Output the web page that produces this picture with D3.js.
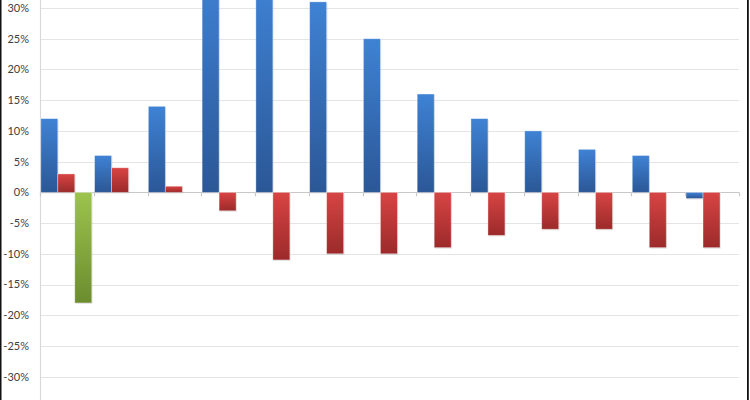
<!DOCTYPE html>
<html>
<head>
<meta charset="utf-8">
<script src="https://cdn.jsdelivr.net/npm/d3@7"></script>
<style>
  body { margin: 0; background: #fff; }
  svg { display: block; }
  .tick-label { font-family: Lato, "Open Sans", sans-serif; font-size: 11px; fill: #404040; }
</style>
</head>
<body>
<svg id="chart" width="750" height="400"></svg>
<script>
// data (percent)
var categories = ["1", "2", "3", "4", "5", "6", "7", "8", "9", "10", "11", "12", "13"];
var seriesNames = ["blue", "red", "green"];
var blueValues = [12, 6, 14, 36, 34, 31, 25, 16, 12, 10, 7, 6, -1];
var redValues = [3, 4, 1, -3, -11, -10, -10, -9, -7, -6, -6, -9, -9];
var greenValues = [-18, null, null, null, null, null, null, null, null, null, null, null, null];
var yTicks = [-30, -25, -20, -15, -10, -5, 0, 5, 10, 15, 20, 25, 30];

var width = 750, height = 400;
var left = 40, right = 739;

var svg = d3.select("#chart");

var colors = {
  blue: ["#3f82d4", "#2b5796"],
  red: ["#d84444", "#9c2a2a"],
  green: ["#9dc44c", "#6c8c2e"]
};

var defs = svg.append("defs");
seriesNames.forEach(function(s) {
  var g = defs.append("linearGradient").attr("id", "grad-" + s)
    .attr("x1", 0).attr("y1", 0).attr("x2", 0).attr("y2", 1);
  g.append("stop").attr("offset", "0%").attr("stop-color", colors[s][0]);
  g.append("stop").attr("offset", "100%").attr("stop-color", colors[s][1]);
});

var x0 = d3.scaleBand().domain(categories).range([left, right]).padding(0);
var x1 = d3.scaleBand().domain(seriesNames).range([0.8, x0.bandwidth() - 2]).padding(0);
var y = d3.scaleLinear().domain([-30, 30]).range([376.7, 8]);

// gridlines
svg.append("g").selectAll("line").data(yTicks).enter().append("line")
  .attr("x1", left).attr("x2", right)
  .attr("y1", function(d) { return Math.round(y(d)) + 0.5; })
  .attr("y2", function(d) { return Math.round(y(d)) + 0.5; })
  .style("stroke", function(d) { return d === 0 ? "#c8c8c8" : "#e4e4e4"; })
  .style("stroke-width", 1.2);

// y axis line
svg.append("line").attr("x1", left + 0.5).attr("x2", left + 0.5)
  .attr("y1", 0).attr("y2", height)
  .style("stroke", "#d9d9d9").style("stroke-width", 1.2);

// tick labels
svg.append("g").selectAll("text").data(yTicks).enter().append("text")
  .attr("class", "tick-label")
  .attr("x", 29)
  .attr("y", function(d) { return y(d); })
  .attr("dy", "0.36em")
  .attr("text-anchor", "end")
  .text(function(d) { return d + "%"; });

// category tick marks on zero line
var bounds = categories.map(function(c) { return x0(c); }).concat([right]);
svg.append("g").selectAll("line").data(bounds).enter().append("line")
  .attr("x1", function(d) { return Math.round(d) + 0.5; })
  .attr("x2", function(d) { return Math.round(d) + 0.5; })
  .attr("y1", y(0)).attr("y2", y(0) + 4)
  .style("stroke", "#c8c8c8").style("stroke-width", 1.2);

var rows = [];
categories.forEach(function(c, i) {
  rows.push({ cat: c, s: "blue", v: blueValues[i] });
  rows.push({ cat: c, s: "red", v: redValues[i] });
  if (greenValues[i] !== null) rows.push({ cat: c, s: "green", v: greenValues[i] });
});

var bars = svg.append("g");
// soft shadow
bars.selectAll("rect.shadow").data(rows).enter().append("rect")
  .attr("class", "shadow")
  .attr("x", function(d) { return x0(d.cat) + x1(d.s) + 0.8; })
  .attr("y", function(d) { return Math.min(y(d.v), y(0)) + 1; })
  .attr("width", x1.bandwidth())
  .attr("height", function(d) { return Math.abs(y(d.v) - y(0)); })
  .style("fill", "#000").style("opacity", 0.12);

bars.selectAll("rect.bar").data(rows).enter().append("rect")
  .attr("class", "bar")
  .attr("x", function(d) { return x0(d.cat) + x1(d.s); })
  .attr("y", function(d) { return Math.min(y(d.v), y(0)); })
  .attr("width", x1.bandwidth())
  .attr("height", function(d) { return Math.abs(y(d.v) - y(0)); })
  .style("fill", function(d) { return "url(#grad-" + d.s + ")"; })
  .style("stroke", "rgba(255,255,255,0.45)")
  .style("stroke-width", 0.8);

// frame edges
svg.append("rect").attr("x", 0).attr("y", 0).attr("width", 1.5).attr("height", height).style("fill", "#111");
svg.append("rect").attr("x", 747).attr("y", 0).attr("width", 1.8).attr("height", height).style("fill", "#111");
</script>
</body>
</html>
